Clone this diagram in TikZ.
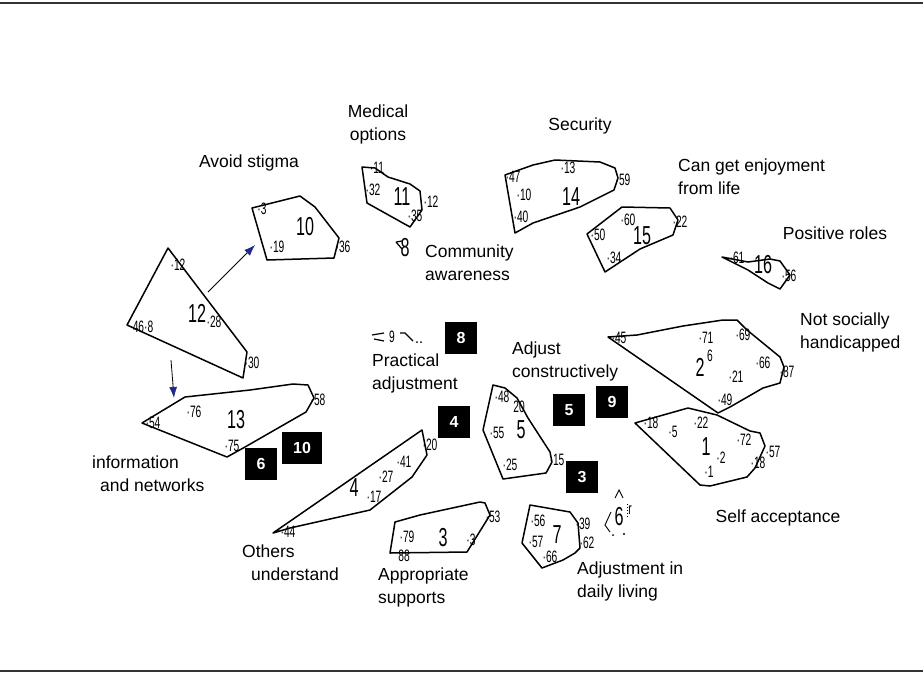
\documentclass[tikz,border=0pt]{standalone}
\usepackage{fontspec}
\setmainfont{Liberation Sans}
\usepackage{graphicx}
\usetikzlibrary{arrows.meta}
\definecolor{arrowblue}{RGB}{28,42,140}
\newcommand{\narrow}[1]{\scalebox{0.62}[1]{#1}}

\tikzset{
  cluster/.style={line width=1.5pt, line join=round},
  lbl/.style={font=\fontsize{17.5}{23}\selectfont, inner sep=0pt},
  cid/.style={font=\fontsize{26}{26}\selectfont, inner sep=0pt},
  stmt/.style={font=\fontsize{16.5}{16.5}\selectfont, inner sep=0pt},
  nbox/.style={fill=black, text=white, font=\bfseries\fontsize{16}{16}\selectfont,
    minimum width=32pt, minimum height=32pt, inner sep=0pt},
  flow/.style={-{Latex[length=11pt,width=8pt,color=arrowblue]}, line width=0.8pt},
  rule/.style={line width=2pt, black!80}
}

\begin{document}
\begin{tikzpicture}[x=1pt, y=-1pt]
        \useasboundingbox (0,0) rectangle (923,673);
        \draw[rule] (0,3) -- (923,3);
        \draw[rule] (0,671) -- (923,671);

        % Clusters
        \draw[cluster] (168,248) -- (247,352) -- (243,378) -- (127,325) -- cycle;
        \draw[cluster] (252,208) -- (300,196) -- (315,207) -- (339,238) -- (334,258) -- (267,260) -- cycle;
        \draw[cluster] (362,167) -- (375,168) -- (388,177) -- (410,184) -- (420,191) -- (422,210) -- (410,227) -- (367,203) -- cycle;
        \draw[cluster] (505,175) -- (533,165) -- (555,160) -- (600,162) -- (615,168) -- (618,178) -- (614,190) -- (580,207) -- (533,223) -- (515,233) -- cycle;
        \draw[cluster] (587,234) -- (622,207) -- (670,208) -- (678,220) -- (673,235) -- (640,249) -- (605,272) -- cycle;
        \draw[cluster] (722,257) -- (748,262) -- (770,259) -- (780,261) -- (790,275) -- (780,289) -- (768,283) -- (748,270) -- cycle;
        \draw[cluster] (608,337) -- (637,335) -- (683,326) -- (723,320) -- (737,320) -- (747,330) -- (780,357) -- (784,367) -- (780,383) -- (763,388) -- (730,407) -- (718,413) -- cycle;
        \draw[cluster] (635,423) -- (688,408) -- (717,415) -- (750,431) -- (760,433) -- (765,446) -- (755,468) -- (747,477) -- (710,486) -- (700,485) -- cycle;
        \draw[cluster] (142,423) -- (185,397) -- (250,390) -- (293,384) -- (308,385) -- (314,398) -- (306,412) -- (245,447) -- (227,457) -- cycle;
        \draw[cluster] (273,533) -- (422,430) -- (427,455) -- (412,477) -- (370,510) -- (290,528) -- cycle;
        \draw[cluster] (493,385) -- (505,388) -- (517,398) -- (528,418) -- (550,452) -- (552,462) -- (546,473) -- (503,479) -- (483,430) -- cycle;
        \draw[cluster] (395,522) -- (420,515) -- (480,502) -- (485,503) -- (490,515) -- (467,552) -- (390,553) -- cycle;
        \draw[cluster] (530,505) -- (570,512) -- (578,523) -- (580,548) -- (575,553) -- (563,560) -- (542,568) -- (522,543) -- cycle;
        % tiny clusters 6, 8, 9
        \draw[line width=1.2pt] (396,242) -- (402,241) (396,242) -- (402,249);
        \draw[line width=1.2pt] (372,335) -- (384,333) (374,339) -- (384,341) (400,333) -- (405,333) -- (413,341);
        \fill (417,342) circle (1pt) (421,342) circle (1pt);
        \draw[line width=0.9pt] (615,498) -- (619,490) -- (623,498) (611,512) -- (605,525) -- (610,532);
        \draw[line width=0.9pt, dotted] (627,504) -- (627,516);
        \fill (613,535) circle (1pt) (624,534) circle (1.2pt);

        % Cluster numbers
        \node[cid] (c12) at (197,313) {\narrow{12}};
        \node[cid] (c10) at (305,227) {\narrow{10}};
        \node[cid] (c11) at (402,197) {\narrow{11}};
        \node[cid] (c14) at (571,197) {\narrow{14}};
        \node[cid] (c15) at (642,236) {\narrow{15}};
        \node[cid] (c16) at (763,265) {\narrow{16}};
        \node[cid] (c2) at (700,367) {\narrow{2}};
        \node[cid] (c1) at (706,447) {\narrow{1}};
        \node[cid] (c13) at (236,420) {\narrow{13}};
        \node[cid] (c4) at (354,488) {\narrow{4}};
        \node[cid] (c5) at (521,430) {\narrow{5}};
        \node[cid] (c3) at (443,538) {\narrow{3}};
        \node[cid] (c7) at (557,535) {\narrow{7}};
        \node[cid] (c8) at (405,248) {\narrow{8}};
        \node[cid] (c6) at (619,517) {\narrow{6}};
        \node[stmt] (c9) at (392,337) {\narrow{9}};

        % Statement numbers
        \node[stmt] (s12a) at (178,265) {\narrow{·12}};
        \node[stmt] (s12b) at (214,322) {\narrow{·28}};
        \node[stmt] (s12c) at (143,327) {\narrow{46·8}};
        \node[stmt] (s12d) at (252,363) {\narrow{·30}};
        \node[stmt] (s10a) at (262,209) {\narrow{·3}};
        \node[stmt] (s10b) at (277,247) {\narrow{·19}};
        \node[stmt] (s10c) at (343,247) {\narrow{·36}};
        \node[stmt] (s11a) at (377,168) {\narrow{·11}};
        \node[stmt] (s11b) at (373,190) {\narrow{·32}};
        \node[stmt] (s11c) at (415,216) {\narrow{·35}};
        \node[stmt] (s11d) at (431,202) {\narrow{·12}};
        \node[stmt] (s14a) at (513,177) {\narrow{·47}};
        \node[stmt] (s14b) at (568,168) {\narrow{·13}};
        \node[stmt] (s14c) at (524,195) {\narrow{·10}};
        \node[stmt] (s14d) at (521,217) {\narrow{·40}};
        \node[stmt] (s14e) at (623,180) {\narrow{·59}};
        \node[stmt] (s15a) at (628,220) {\narrow{·60}};
        \node[stmt] (s15b) at (598,235) {\narrow{·50}};
        \node[stmt] (s15c) at (614,258) {\narrow{·34}};
        \node[stmt] (s15d) at (680,222) {\narrow{·22}};
        \node[stmt] (s16a) at (737,258) {\narrow{·61}};
        \node[stmt] (s16b) at (789,276) {\narrow{·56}};
        \node[stmt] (s2a) at (706,338) {\narrow{·71}};
        \node[stmt] (s2b) at (743,335) {\narrow{·69}};
        \node[stmt] (s2c) at (763,363) {\narrow{·66}};
        \node[stmt] (s2d) at (736,377) {\narrow{·21}};
        \node[stmt] (s2e) at (787,372) {\narrow{·87}};
        \node[stmt] (s2f) at (725,400) {\narrow{·49}};
        \node[stmt] (s2g) at (619,338) {\narrow{·45}};
        \node[stmt] (s2h) at (710,356) {\narrow{6}};
        \node[stmt] (s1a) at (651,423) {\narrow{·18}};
        \node[stmt] (s1b) at (673,432) {\narrow{·5}};
        \node[stmt] (s1c) at (701,423) {\narrow{·22}};
        \node[stmt] (s1d) at (744,440) {\narrow{·72}};
        \node[stmt] (s1e) at (721,458) {\narrow{·2}};
        \node[stmt] (s1f) at (758,463) {\narrow{·18}};
        \node[stmt] (s1g) at (773,452) {\narrow{·57}};
        \node[stmt] (s1h) at (709,472) {\narrow{·1}};
        \node[stmt] (s13a) at (194,412) {\narrow{·76}};
        \node[stmt] (s13b) at (153,423) {\narrow{·54}};
        \node[stmt] (s13c) at (318,400) {\narrow{·58}};
        \node[stmt] (s13d) at (232,446) {\narrow{·75}};
        \node[stmt] (s4a) at (386,477) {\narrow{·27}};
        \node[stmt] (s4b) at (404,462) {\narrow{·41}};
        \node[stmt] (s4c) at (374,497) {\narrow{·17}};
        \node[stmt] (s4d) at (430,445) {\narrow{·20}};
        \node[stmt] (s4e) at (288,532) {\narrow{·44}};
        \node[stmt] (s5a) at (502,397) {\narrow{·48}};
        \node[stmt] (s5b) at (519,407) {\narrow{20}};
        \node[stmt] (s5c) at (497,433) {\narrow{·55}};
        \node[stmt] (s5d) at (510,465) {\narrow{·25}};
        \node[stmt] (s5e) at (557,460) {\narrow{·15}};
        \node[stmt] (s3a) at (407,537) {\narrow{·79}};
        \node[stmt] (s3b) at (404,556) {\narrow{88}};
        \node[stmt] (s3c) at (493,517) {\narrow{·53}};
        \node[stmt] (s3d) at (471,540) {\narrow{·3}};
        \node[stmt] (s7a) at (538,521) {\narrow{·56}};
        \node[stmt] (s7b) at (536,542) {\narrow{·57}};
        \node[stmt] (s7c) at (550,557) {\narrow{·66}};
        \node[stmt] (s7d) at (583,524) {\narrow{·39}};
        \node[stmt] (s7e) at (587,543) {\narrow{·62}};
        \node[stmt] (s6a) at (630,510) {\narrow{r}};

        % Cluster names
        \node[lbl, align=center] (medical) at (378,124) {Medical\\options};
        \node[lbl] (stigma) at (249,163) {Avoid stigma};
        \node[lbl] (security) at (580,126) {Security};
        \node[lbl, align=left, anchor=west] (enjoy) at (678,177) {Can get enjoyment\\from life};
        \node[lbl] (roles) at (835,233) {Positive roles};
        \node[lbl, align=left, anchor=west] (community) at (425,263) {Community\\awareness};
        \node[lbl, align=left, anchor=west] (handicap) at (800,332) {Not socially\\handicapped};
        \node[lbl, align=left, anchor=west] (practical) at (372,373) {Practical\\adjustment};
        \node[lbl, align=left, anchor=west] (constructive) at (512,361) {Adjust\\constructively};
        \node[lbl, align=left, anchor=west] (info) at (92,474) {information\\\hspace*{8pt}and networks};
        \node[lbl, align=left, anchor=west] (others) at (242,563) {Others\\\hspace*{9pt}understand};
        \node[lbl, align=left, anchor=west] (supports) at (378,587) {Appropriate\\supports};
        \node[lbl, align=left, anchor=west] (daily) at (577,581) {Adjustment in\\daily living};
        \node[lbl] (accept) at (778,518) {Self acceptance};

        % Step numbers
        \node[nbox] (b8) at (461,338) {8};
        \node[nbox] (b4) at (454,422) {4};
        \node[nbox] (b5) at (569,410) {5};
        \node[nbox] (b9) at (612,402) {9};
        \node[nbox] (b3) at (582,477) {3};
        \node[nbox] (b6) at (261,464) {6};
        \node[nbox, minimum width=40pt] (b10) at (302,448) {10};

        % Arrows
        \coordinate (from12) at (208,292);
        \coordinate (to10) at (255,245);
        \coordinate (below12) at (171,360);
        \coordinate (to13) at (174,398);
        \draw[flow] (from12) -- (to10);
        \draw[flow] (below12) -- (to13);
\end{tikzpicture}
\end{document}
